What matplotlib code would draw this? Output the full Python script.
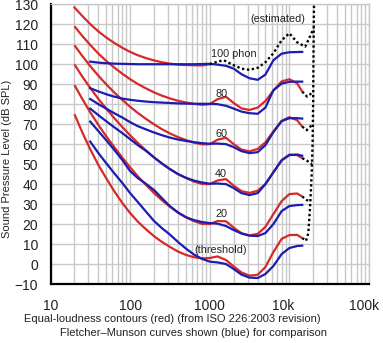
import numpy as np
import matplotlib
matplotlib.use("Agg")
import matplotlib.pyplot as plt
from matplotlib.ticker import FixedLocator, NullFormatter, LogLocator
from matplotlib.transforms import ScaledTranslation

plt.rcParams['font.family'] = ['Liberation Sans', 'DejaVu Sans']

# ISO 226:2003 frequencies (Hz), curves drawn up to ~14.5 kHz
iso_freq = [20, 25, 31.5, 40, 50, 63, 80, 100, 125, 160, 200, 250, 315, 400, 500,
            630, 800, 1000, 1250, 1600, 2000, 2500, 3150, 4000, 5000, 6300, 8000,
            10000, 12500, 14500]

red_0 = [75.0, 66.0, 57.5, 49.5, 43.0, 36.5, 30.5, 25.5, 21.2, 17.2, 13.9, 11.1, 8.6,
         6.2, 4.6, 3.4, 2.8, 3.0, 3.8, 2.0, -1.2, -4.2, -5.8, -5.4, -1.5, 6.0, 12.6,
         14.5, 14.6, 13.0]
red_20 = [89.6, 82.7, 76.0, 69.6, 64.0, 58.6, 53.2, 48.4, 43.9, 39.4, 35.5, 32.0, 28.7,
          25.7, 23.4, 21.5, 20.1, 20.0, 21.5, 21.4, 18.2, 15.4, 14.3, 15.1, 18.6, 25.0,
          31.5, 35.0, 35.3, 33.8]
red_40 = [99.9, 93.9, 88.2, 82.6, 77.8, 73.1, 68.5, 64.4, 60.6, 56.7, 53.4, 50.4, 47.6,
          45.0, 43.1, 41.3, 40.1, 40.0, 41.8, 42.5, 39.2, 36.5, 35.6, 36.7, 40.0, 45.8,
          51.8, 54.8, 54.5, 53.0]
red_60 = [109.5, 104.2, 99.1, 94.2, 90.0, 85.9, 82.1, 78.7, 75.6, 72.5, 69.9, 67.5, 65.4,
          63.5, 62.1, 60.8, 59.9, 60.0, 62.2, 63.2, 60.0, 57.3, 56.4, 57.6, 60.9, 66.4,
          71.7, 73.5, 72.0, 68.8]
red_80 = [119.0, 114.2, 109.7, 105.3, 101.7, 98.4, 95.2, 92.5, 90.1, 87.8, 85.9, 84.3,
          82.9, 81.7, 80.9, 80.2, 79.7, 80.0, 82.5, 83.7, 80.6, 77.9, 77.1, 78.3, 81.6,
          86.8, 91.4, 92.5, 90.5, 86.3]
# 100 phon only measured up to 1 kHz
red_100 = [128.4, 124.2, 120.1, 116.4, 113.4, 110.7, 108.2, 106.2, 104.5, 103.0, 101.9,
           101.0, 100.3, 99.8, 99.6, 99.5, 99.4, 100.0]

# Fletcher-Munson curves
fm_freq = [31.5, 40, 50, 63, 80, 100, 125, 160, 200, 250, 315, 400, 500, 630, 800,
           1000, 1250, 1600, 2000, 2500, 3150, 4000, 5000, 6300, 8000, 10000, 12500, 14500]
blue_0 = [61.3, 55.5, 50.5, 45.5, 40.5, 35.5, 31.0, 26.0, 21.5, 18.0, 14.8, 11.0, 7.8,
          4.8, 2.6, 1.2, 0.8, 0.0, -2.5, -5.3, -6.8, -7.0, -5.0, -1.0, 5.0, 8.0, 9.0, 9.2]
blue_20 = [71.3, 66.5, 62.0, 57.2, 52.0, 46.5, 43.0, 40.0, 37.0, 33.0, 29.0, 25.8, 23.5,
           22.0, 21.0, 20.5, 20.2, 19.0, 17.0, 15.3, 14.2, 14.0, 15.5, 20.0, 26.5, 29.0,
           29.5, 29.6]
blue_40 = [77.8, 74.5, 71.5, 68.5, 65.5, 62.5, 59.5, 56.5, 53.3, 50.3, 47.5, 45.0, 43.2,
           41.8, 40.8, 40.2, 40.3, 40.0, 38.0, 35.5, 34.5, 35.5, 40.0, 46.0, 52.0, 54.5,
           54.8, 54.2]
blue_60 = [82.6, 80.0, 77.8, 75.5, 73.3, 71.0, 69.0, 67.3, 65.8, 64.5, 63.3, 62.3, 61.6,
           61.0, 60.5, 60.2, 60.3, 60.0, 58.5, 56.5, 55.5, 56.0, 59.5, 66.0, 71.5, 73.0,
           73.0, 72.8]
blue_80 = [88.0, 86.4, 85.0, 83.8, 82.8, 82.2, 81.7, 81.3, 81.0, 80.8, 80.6, 80.4, 80.3,
           80.2, 80.2, 80.2, 80.0, 79.2, 77.8, 76.3, 75.5, 75.2, 78.3, 87.0, 90.3, 91.2,
           91.3, 91.3]
blue_100 = [101.3, 100.8, 100.5, 100.3, 100.2, 100.1, 100.0, 100.0, 100.0, 100.0, 100.0,
            100.0, 100.0, 100.0, 100.1, 100.2, 99.8, 99.2, 97.8, 95.0, 93.0, 92.2, 94.8,
            102.0, 105.3, 106.0, 106.1, 106.2]

# estimated (dotted) parts
est_100_freq = [1000, 1250, 1500, 2000, 2500, 3150, 4000, 5000, 6300, 8000, 10000,
                12500, 15800, 18200, 20200]
est_100_val = [100.0, 101.3, 102.0, 99.5, 97.8, 97.2, 98.2, 101.0, 105.5, 112.0, 115.5,
               111.0, 108.8, 114.0, 118.0]
edge_freq = [16200, 17300, 18200, 19100, 19600, 19900, 20100, 20300, 20600]
edge_val = [11.7, 15.5, 28.8, 45.6, 62.0, 82.0, 105.0, 125.0, 140.0]
tail_freq = {0: [14500, 16200], 20: [14500, 16300, 18300], 40: [14500, 16500, 19200],
             60: [14500, 16500, 19700], 80: [14500, 16700, 19800]}
tail_val = {0: [13.0, 11.7], 20: [33.8, 32.2, 31.0], 40: [53.0, 51.8, 50.0],
            60: [68.8, 67.0, 70.0], 80: [86.3, 83.8, 86.0]}

x_ticks = [10, 100, 1000, 10000, 100000]
x_tick_labels = ['10', '100', '1000', '10k', '100k']

RED = '#d42a2a'
BLUE = '#1c1cb0'

fig = plt.figure(figsize=(3.83, 3.43), dpi=100)
ax = fig.add_axes([50.5 / 383, 1 - 284 / 343, 318.5 / 383, 279.7 / 343])

for vals in [red_0, red_20, red_40, red_60, red_80]:
    ax.plot(iso_freq, vals, color=RED, lw=1.6, solid_capstyle='butt', zorder=3)
ax.plot(iso_freq[:len(red_100)], red_100, color=RED, lw=1.6, zorder=3)

for vals in [blue_0, blue_20, blue_40, blue_60, blue_80, blue_100]:
    ax.plot(fm_freq, vals, color=BLUE, lw=1.6, zorder=4)

dot = dict(color='black', lw=1.7, linestyle=(0, (1, 1.1)), zorder=5)
ax.plot(est_100_freq, est_100_val, **dot)
ax.plot(edge_freq, edge_val, **dot)
for k in tail_freq:
    ax.plot(tail_freq[k], tail_val[k], **dot)

lab = dict(fontsize=7.8, color='#222222', zorder=6)
ax.text(1050, 105.2, '100 phon', ha='left', va='center', **lab)
for v, s in [(85, '80'), (65, '60'), (45, '40'), (24.8, '20')]:
    ax.text(1390, v, s, ha='center', va='center', **lab)
ax.text(1370, 7.2, '(threshold)', ha='center', va='center', **lab)
ax.text(7150, 122.5, '(estimated)', ha='center', va='center', **lab)

ax.set_xscale('log')
ax.set_xlim(10, 100000)
ax.set_ylim(-10, 130)
ax.set_yticks(np.arange(-10, 131, 10))
ax.xaxis.set_major_locator(FixedLocator(x_ticks))
ax.set_xticklabels(x_tick_labels)
ax.xaxis.set_minor_locator(LogLocator(base=10, subs=np.arange(2, 10)))
ax.xaxis.set_minor_formatter(NullFormatter())
ax.tick_params(which='both', length=0, labelsize=10, colors='#222222')
ax.tick_params(axis='y', pad=9)
ax.tick_params(axis='x', pad=11)

# the last two tick labels sit a little left of their grid lines
for lbl, dx in zip(ax.get_xticklabels(), [0, 0, 0, -6, -4.5]):
    if dx:
        lbl.set_transform(lbl.get_transform() +
                          ScaledTranslation(dx / 100, 0, fig.dpi_scale_trans))

grid = dict(color='#c8c8c8', lw=1.0)
ax.grid(True, which='major', axis='both', **grid)
ax.grid(True, which='minor', axis='x', **grid)
ax.set_axisbelow(True)

for side in ['top', 'right']:
    ax.spines[side].set_color('#c8c8c8')
    ax.spines[side].set_linewidth(1.0)
for side in ['left', 'bottom']:
    ax.spines[side].set_color('black')
    ax.spines[side].set_linewidth(1.6)

fig.text(7.5 / 383, 1 - 158.5 / 343, 'Sound Pressure Level (dB SPL)', rotation=90,
         ha='center', va='center', fontsize=8.0, color='#222222')
fig.text(172 / 383, 1 - 319.3 / 343,
         'Equal-loudness contours (red) (from ISO 226:2003 revision)',
         ha='center', va='center', fontsize=8.0, color='#222222')
fig.text(193 / 383, 1 - 333.3 / 343,
         'Fletcher\u2013Munson curves shown (blue) for comparison',
         ha='center', va='center', fontsize=8.0, color='#222222')

fig.savefig('out.png', dpi=100)
